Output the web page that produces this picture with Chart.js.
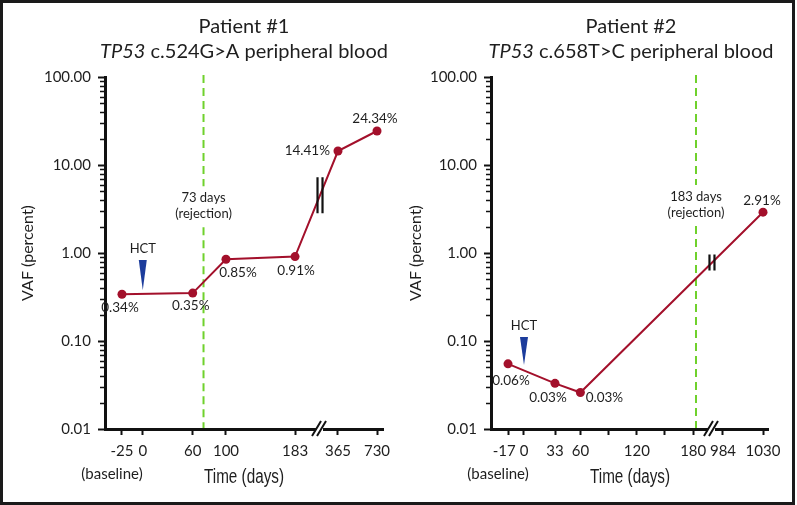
<!DOCTYPE html>
<html><head><meta charset="utf-8">
<script src="https://cdn.jsdelivr.net/npm/chart.js@4"></script>
<style>
html,body{margin:0;padding:0;background:#fff;}
#wrap{position:relative;width:797px;height:505px;overflow:hidden;background:#fff;}
canvas{position:absolute;top:0;}
#c1{left:0}
#c2{left:400px}
#frame{position:absolute;left:0;top:0;width:789px;height:499px;border:3px solid #1a1a1a;pointer-events:none;}
</style></head>
<body><div id="wrap"><canvas id="c1" width="400" height="505"></canvas><canvas id="c2" width="397" height="505"></canvas><div id="frame"></div></div>
<script>
// ---------------- data ----------------
const p1Days = [-25, 60, 100, 183, 365, 730];
const p1Vaf = [0.34, 0.35, 0.85, 0.91, 14.41, 24.34];
const p1Labels = ['0.34%', '0.35%', '0.85%', '0.91%', '14.41%', '24.34%'];
const p1TickDays = [-25, 0, 60, 100, 183, 365, 730];
const p1TickLabels = ['-25', '0', '60', '100', '183', '365', '730'];
const p1Title = 'Patient #1';
const p1Gene = 'TP53';
const p1Variant = ' c.524G>A peripheral blood';
const p1RejectionDay = 73;
const p1RejectionText = ['73 days', '(rejection)'];

const p2Days = [-17, 33, 60, 1030];
const p2Vaf = [0.055, 0.033, 0.026, 2.91];
const p2Labels = ['0.06%', '0.03%', '0.03%', '2.91%'];
const p2TickDays = [-17, 0, 33, 60, 90, 120, 150, 180, 984, 1030];
const p2TickLabels = ['-17  ', '0', '33', '60', '', '120', '', '180', '984', '1030'];
const p2Title = 'Patient #2';
const p2Gene = 'TP53';
const p2Variant = ' c.658T>C peripheral blood';
const p2RejectionDay = 183;
const p2RejectionText = ['183 days', '(rejection)'];

const yTickValues = [0.01, 0.1, 1, 10, 100];
const hctDay = 0;
const xAxisTitle = 'Time (days)';
const yAxisTitle = 'VAF (percent)';

// ---------------- styles / layout ----------------
const RED = '#a3102b';
const GREEN = '#6fd12c';
const BLUE = '#1c3c9c';
const INK = '#1e1e1e';
const FONT = 'Lato, "Noto Sans", sans-serif';
const NARROW = '"Liberation Sans Narrow", "Liberation Sans", sans-serif';

const P1 = {
  days: p1Days, vaf: p1Vaf, labels: p1Labels, tickDays: p1TickDays, tickLabels: p1TickLabels,
  title: p1Title, gene: p1Gene, variant: p1Variant, rejDay: p1RejectionDay, rejText: p1RejectionText,
  brk: {cut: 183, resume: 365, resumeAt: 234.6, rate: 0.1285, min: -45.4, max: 288.7, mark: 213, seg: 3, markHalf: 18},
  padRight: 17, yWidth: 105, yTitlePad: 18, titleX: 244, xTitleX: 244,
  rejTextAt: 3.4, hct: {top: 0.83, bottom: 0.38, halfW: 4},
  lblOff: [[-2, 13, 'center'], [-2, 13, 'center'], [12, 13, 'center'], [1, 14, 'center'], [-8, 0, 'right'], [-2, -12, 'center']]
};
const P2 = {
  days: p2Days, vaf: p2Vaf, labels: p2Labels, tickDays: p2TickDays, tickLabels: p2TickLabels,
  title: p2Title, gene: p2Gene, variant: p2Variant, rejDay: p2RejectionDay, rejText: p2RejectionText,
  brk: {cut: 183, resume: 984, resumeAt: 211.7, rate: 0.926, min: -35.1, max: 259.6, mark: 200, seg: 2, markHalf: 8},
  padRight: 29, yWidth: 91, yTitlePad: 6, titleX: 231, xTitleX: 230,
  rejTextAt: 3.5, hct: {top: 0.111, bottom: 0.0533, halfW: 4},
  lblOff: [[3, 17, 'center'], [-7, 14, 'center'], [24, 5, 'center'], [-1, -12, 'center']]
};

function mapper(b) { return d => d <= b.cut ? d : b.resumeAt + (d - b.resume) * b.rate; }

function decor(P, xMap) {
  return {
    id: 'decor',
    beforeDatasetsDraw(chart) {
      const {ctx, chartArea, scales: {x, y}} = chart;
      const rx = x.getPixelForValue(xMap(P.rejDay));
      const ty = y.getPixelForValue(P.rejTextAt);
      ctx.save();
      ctx.strokeStyle = GREEN; ctx.lineWidth = 2; ctx.setLineDash([8, 5]);
      ctx.beginPath();
      ctx.moveTo(rx, chartArea.top - 2); ctx.lineTo(rx, ty - 20);
      ctx.moveTo(rx, ty + 21); ctx.lineTo(rx, chartArea.bottom - 1);
      ctx.stroke();
      ctx.setLineDash([]);
      ctx.fillStyle = INK; ctx.font = '13px ' + FONT; ctx.textAlign = 'center'; ctx.textBaseline = 'middle';
      ctx.fillText(P.rejText[0], rx, ty - 8);
      ctx.fillText(P.rejText[1], rx, ty + 8);
      ctx.restore();
    },
    afterDraw(chart) {
      const {ctx, chartArea, scales: {x, y}} = chart;
      ctx.save();
      // titles
      ctx.fillStyle = INK; ctx.textBaseline = 'middle'; ctx.textAlign = 'left';
      ctx.font = '20px ' + FONT;
      let w = ctx.measureText(P.title).width;
      ctx.fillText(P.title, P.titleX - w / 2, 27);
      ctx.font = 'italic 20px ' + FONT;
      const wg = ctx.measureText(P.gene).width;
      ctx.font = '20px ' + FONT;
      const wv = ctx.measureText(P.variant).width;
      const sx = P.titleX - (wg + wv) / 2;
      ctx.font = 'italic 20px ' + FONT; ctx.fillText(P.gene, sx, 52);
      ctx.font = '20px ' + FONT; ctx.fillText(P.variant, sx + wg, 52);
      // x axis title (condensed)
      ctx.textAlign = 'center';
      ctx.font = '20px ' + NARROW;
      ctx.fillText(xAxisTitle, P.xTitleX, 477, 80);
      // minor y ticks
      ctx.strokeStyle = '#111'; ctx.lineWidth = 1.5;
      ctx.beginPath();
      for (let i = 0; i < yTickValues.length - 1; i++) {
        for (let k = 2; k <= 9; k++) {
          const py = Math.round(y.getPixelForValue(yTickValues[i] * k)) + 0.5;
          ctx.moveTo(y.right - 5, py); ctx.lineTo(y.right, py);
        }
      }
      ctx.stroke();
      // x-axis break
      const bx = x.getPixelForValue(P.brk.mark), by = chartArea.bottom;
      ctx.fillStyle = '#fff'; ctx.fillRect(bx - 4, by - 3, 7, 6);
      ctx.strokeStyle = '#111'; ctx.lineWidth = 2;
      ctx.beginPath();
      ctx.moveTo(bx - 8, by + 7); ctx.lineTo(bx + 1, by - 8);
      ctx.moveTo(bx - 3, by + 7); ctx.lineTo(bx + 6, by - 8);
      ctx.stroke();
      // break marks on data line
      const pts = chart.getDatasetMeta(0).data;
      const a = pts[P.brk.seg], b = pts[P.brk.seg + 1];
      const mx = bx;
      const my = a.y + (b.y - a.y) * (mx - a.x) / (b.x - a.x);
      ctx.lineWidth = 2.2;
      ctx.beginPath();
      ctx.moveTo(mx - 2.5, my - P.brk.markHalf); ctx.lineTo(mx - 2.5, my + P.brk.markHalf);
      ctx.moveTo(mx + 2.5, my - P.brk.markHalf); ctx.lineTo(mx + 2.5, my + P.brk.markHalf);
      ctx.stroke();
      // HCT arrow
      const hx = x.getPixelForValue(xMap(hctDay));
      const ht = y.getPixelForValue(P.hct.top), hb = y.getPixelForValue(P.hct.bottom);
      ctx.fillStyle = BLUE;
      ctx.beginPath();
      ctx.moveTo(hx - P.hct.halfW, ht); ctx.lineTo(hx + P.hct.halfW, ht); ctx.lineTo(hx, hb); ctx.closePath();
      ctx.fill();
      ctx.fillStyle = INK; ctx.font = '13px ' + FONT; ctx.textAlign = 'center';
      ctx.fillText('HCT', hx, ht - 11);
      // value labels
      ctx.font = '13.5px ' + FONT;
      pts.forEach((p, i) => {
        const o = P.lblOff[i];
        ctx.textAlign = o[2];
        ctx.fillText(P.labels[i], p.x + o[0], p.y + o[1]);
      });
      // baseline label
      const bl = x.getPixelForValue(xMap(P.tickDays[0]));
      ctx.font = '15px ' + FONT; ctx.textAlign = 'center';
      ctx.fillText('(baseline)', bl - 10, 474);
      ctx.restore();
    }
  };
}

function buildChart(id, P) {
  const xMap = mapper(P.brk);
  const pts = P.days.map((d, i) => ({x: xMap(d), y: P.vaf[i]}));
  return new Chart(document.getElementById(id), {
    type: 'line',
    data: {datasets: [{data: pts, borderColor: RED, backgroundColor: RED, borderWidth: 2,
      pointRadius: 4.5, pointHoverRadius: 4.5, pointBorderWidth: 0, tension: 0, clip: false}]},
    options: {
      responsive: false, animation: false, devicePixelRatio: 1, events: [],
      layout: {padding: {left: 0, right: P.padRight, top: 77, bottom: 15}},
      plugins: {legend: {display: false}, tooltip: {enabled: false}, title: {display: false}},
      scales: {
        x: {
          type: 'linear', min: P.brk.min, max: P.brk.max, bounds: 'data',
          afterFit(s) { s.height = 61; },
          afterBuildTicks(s) { s.ticks = P.tickDays.map(d => ({value: xMap(d)})); },
          ticks: {autoSkip: false, maxRotation: 0, minRotation: 0, padding: 7, color: INK,
            font: {family: FONT, size: 15}, callback: (v, i) => P.tickLabels[i]},
          grid: {drawOnChartArea: false, drawTicks: true, tickLength: 6, tickWidth: 2, tickColor: '#111'},
          border: {display: true, width: 3, color: '#111'},
          title: {display: false}
        },
        y: {
          type: 'logarithmic', min: 0.01, max: 100,
          afterFit(s) { s.width = P.yWidth; },
          afterBuildTicks(s) { s.ticks = yTickValues.map(v => ({value: v})); },
          ticks: {autoSkip: false, padding: 7, color: INK, font: {family: FONT, size: 15},
            callback: v => Number(v).toFixed(2)},
          grid: {drawOnChartArea: false, drawTicks: true, tickLength: 7, tickWidth: 2, tickColor: '#111'},
          border: {display: true, width: 3, color: '#111'},
          title: {display: true, text: yAxisTitle, color: INK, font: {family: FONT, size: 16},
            padding: {top: P.yTitlePad, bottom: 0}}
        }
      }
    },
    plugins: [decor(P, xMap)]
  });
}

buildChart('c1', P1);
buildChart('c2', P2);
</script>
</body></html>
